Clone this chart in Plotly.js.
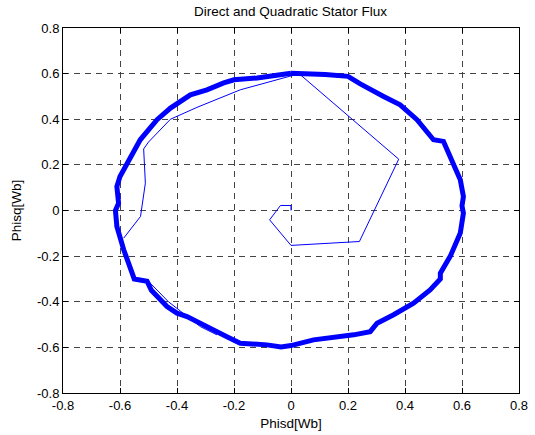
<!DOCTYPE html>
<html>
<head>
<meta charset="utf-8">
<script src="https://cdn.plot.ly/plotly-3.0.1.min.js"></script>
<style>html,body{margin:0;padding:0;background:#fff;}#plot{width:535px;height:435px;}</style>
</head>
<body>
<div id="plot"></div>
<script>
// Startup transient (thin line)
const transientX = [0, 0, -0.037, -0.075, 0, 0.24, 0.378, 0.03, 0, -0.178, -0.33, -0.423, -0.5, -0.517, -0.511, -0.528, -0.587];
const transientY = [0, 0.022, 0.022, -0.041, -0.153, -0.136, 0.225, 0.598, 0.59, 0.529, 0.452, 0.4, 0.3, 0.27, 0.12, -0.026, -0.121];
// Secondary thin path lower-left
const innerX = [-0.55, -0.505, -0.43, -0.318, -0.26];
const innerY = [-0.30, -0.304, -0.4, -0.509, -0.545];
// Steady-state flux ring (thick band)
const ringX = [0, 0.05, 0.12, 0.2, 0.243, 0.325, 0.383, 0.442, 0.5, 0.535, 0.571, 0.594, 0.605, 0.6, 0.605, 0.594, 0.559, 0.524, 0.524, 0.488, 0.43, 0.384, 0.36, 0.302, 0.278, 0.22, 0.079, 0, -0.035, -0.084, -0.178, -0.225, -0.295, -0.365, -0.4, -0.435, -0.49, -0.505, -0.55, -0.587, -0.611, -0.616, -0.605, -0.611, -0.6, -0.575, -0.564, -0.529, -0.47, -0.423, -0.353, -0.295, -0.236, -0.2, -0.119, -0.014, 0];
const ringY = [0.602, 0.6, 0.596, 0.588, 0.555, 0.5, 0.463, 0.398, 0.31, 0.303, 0.208, 0.135, 0.061, 0.02, -0.011, -0.099, -0.2, -0.275, -0.3, -0.348, -0.406, -0.443, -0.457, -0.494, -0.531, -0.545, -0.567, -0.592, -0.598, -0.589, -0.582, -0.553, -0.509, -0.465, -0.45, -0.421, -0.35, -0.31, -0.3, -0.172, -0.07, 0, 0.032, 0.105, 0.149, 0.208, 0.237, 0.31, 0.398, 0.449, 0.507, 0.529, 0.559, 0.573, 0.581, 0.595, 0.602];

const tickVals = [-0.8, -0.6, -0.4, -0.2, 0, 0.2, 0.4, 0.6, 0.8];
const tickText = ['-0.8', '-0.6', '-0.4', '-0.2', '0', '0.2', '0.4', '0.6', '0.8'];

const blue = '#0000ff';
const font = 'Liberation Sans, Arial, sans-serif';
const traces = [
  {x: ringX, y: ringY, mode: 'lines', line: {color: blue, width: 5}, hoverinfo: 'skip'},
  {x: transientX, y: transientY, mode: 'lines', line: {color: blue, width: 1}, hoverinfo: 'skip'},
  {x: innerX, y: innerY, mode: 'lines', line: {color: blue, width: 1}, hoverinfo: 'skip'}
];

const axisCommon = {
  range: [-0.8, 0.8],
  tickvals: tickVals,
  ticktext: tickText,
  showgrid: true,
  gridcolor: '#444',
  griddash: '6px,5px',
  gridwidth: 1,
  zeroline: false,
  showline: true,
  linecolor: '#000',
  linewidth: 1,
  mirror: 'ticks',
  ticks: 'inside',
  ticklen: 5,
  tickcolor: '#000',
  tickfont: {family: font, size: 13, color: '#000'},
  fixedrange: true
};

const layout = {
  width: 535, height: 435,
  margin: {l: 63, r: 16, t: 28, b: 42},
  paper_bgcolor: '#fff', plot_bgcolor: '#fff',
  showlegend: false,
  title: {text: 'Direct and Quadratic Stator Flux', x: 0.543, xanchor: 'center', y: 0.975, yanchor: 'middle', yref: 'container',
          font: {family: font, size: 13.5, color: '#000'}},
  xaxis: Object.assign({}, axisCommon, {title: {text: 'Phisd[Wb]', standoff: 6, font: {family: font, size: 13.5, color: '#000'}}}),
  yaxis: Object.assign({}, axisCommon, {title: {text: 'Phisq[Wb]', standoff: 12, font: {family: font, size: 13.5, color: '#000'}}})
};

Plotly.newPlot('plot', traces, layout, {staticPlot: true, displayModeBar: false});
</script>
</body>
</html>
